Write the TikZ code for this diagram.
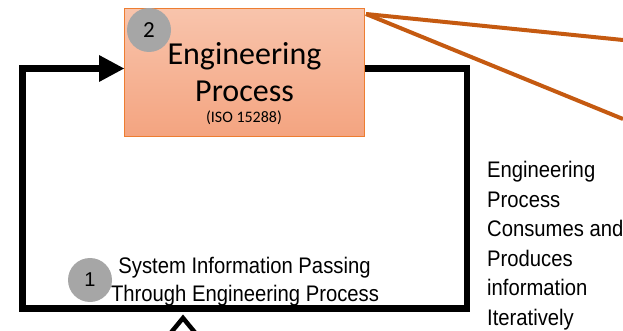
\documentclass[tikz,border=0pt]{standalone}
\usepackage{fontspec}
\setmainfont{Carlito}
\newfontfamily\arialn[FakeStretch=0.9]{Liberation Sans}
\newfontfamily\arialf{Liberation Sans}
\usetikzlibrary{arrows.meta}
\definecolor{boxtop}{HTML}{F8C4AC}
\definecolor{boxbot}{HTML}{F4A480}
\definecolor{boxedge}{HTML}{ED7D31}
\definecolor{calloutline}{HTML}{C55A11}
\definecolor{badge}{HTML}{A6A6A6}
\tikzset{
  flow/.style={line width=6.5pt, black, line join=miter},
  badgecirc/.style={circle, fill=badge, inner sep=0pt, minimum size=44pt},
  callout/.style={line width=4pt, calloutline},
  procbox/.style={rectangle, draw=boxedge, line width=1pt, top color=boxtop, bottom color=boxbot,
    minimum width=240pt, minimum height=128pt, inner sep=0pt}
}
\begin{document}
\begin{tikzpicture}[x=1pt, y=-1pt]
\useasboundingbox (0,0) rectangle (623,331);
% feedback loop through the process
\coordinate (lt) at (22.5,68.5);
\coordinate (lb) at (22.5,308.5);
\coordinate (rb) at (467,308.5);
\coordinate (rt) at (467,68.5);
\node[procbox, anchor=north west] (proc) at (124,8) {};
\draw[flow] (proc.east |- rt) -- (rt) -- (rb) -- (lb) -- (lt) -- (100,68.5);
\fill (124,68.5) -- (99,55) -- (99,82) -- cycle;
% open arrow entering from below
\coordinate (ch) at (183,318);
\draw[line width=4.5pt, line join=miter] (169,335) -- (ch) -- (197,335);
% process box labels
\node[font=\fontsize{32}{36}\selectfont, anchor=base] (eng) at (244.5,65) {Engineering};
\node[font=\fontsize{32}{36}\selectfont, anchor=base] (procl) at (244.5,101.5) {Process};
\node[font=\fontsize{16}{18}\selectfont, anchor=base] (iso) at (244,123) {(ISO 15288)};
\node[badgecirc] (b2) at (149,30) {};
\node[font=\fontsize{23}{26}\selectfont] at (b2) {2};
% callout lines
\coordinate (ct) at (623,40);
\coordinate (cb) at (623,119);
\draw[callout] (proc.north east) ++(1,6) coordinate (apex) -- (ct);
\draw[callout] (apex) -- (cb);
% loop caption
\node[badgecirc] (b1) at (90,280) {};
\node[font=\arialf\fontsize{20}{24}\selectfont] at (b1) {1};
\node[font=\arialn\fontsize{22.5}{29}\selectfont, anchor=base] (cap1) at (244.5,273) {System Information Passing};
\node[font=\arialn\fontsize{22.5}{29}\selectfont, anchor=base] (cap2) at (245,301) {Through Engineering Process};
% side note
\node[font=\arialn\fontsize{22.5}{29.6}\selectfont, align=left, anchor=base west, inner sep=0pt] (note) at (487,325.5)
  {Engineering\\Process\\Consumes and\\Produces\\information\\Iteratively};
\end{tikzpicture}
\end{document}
